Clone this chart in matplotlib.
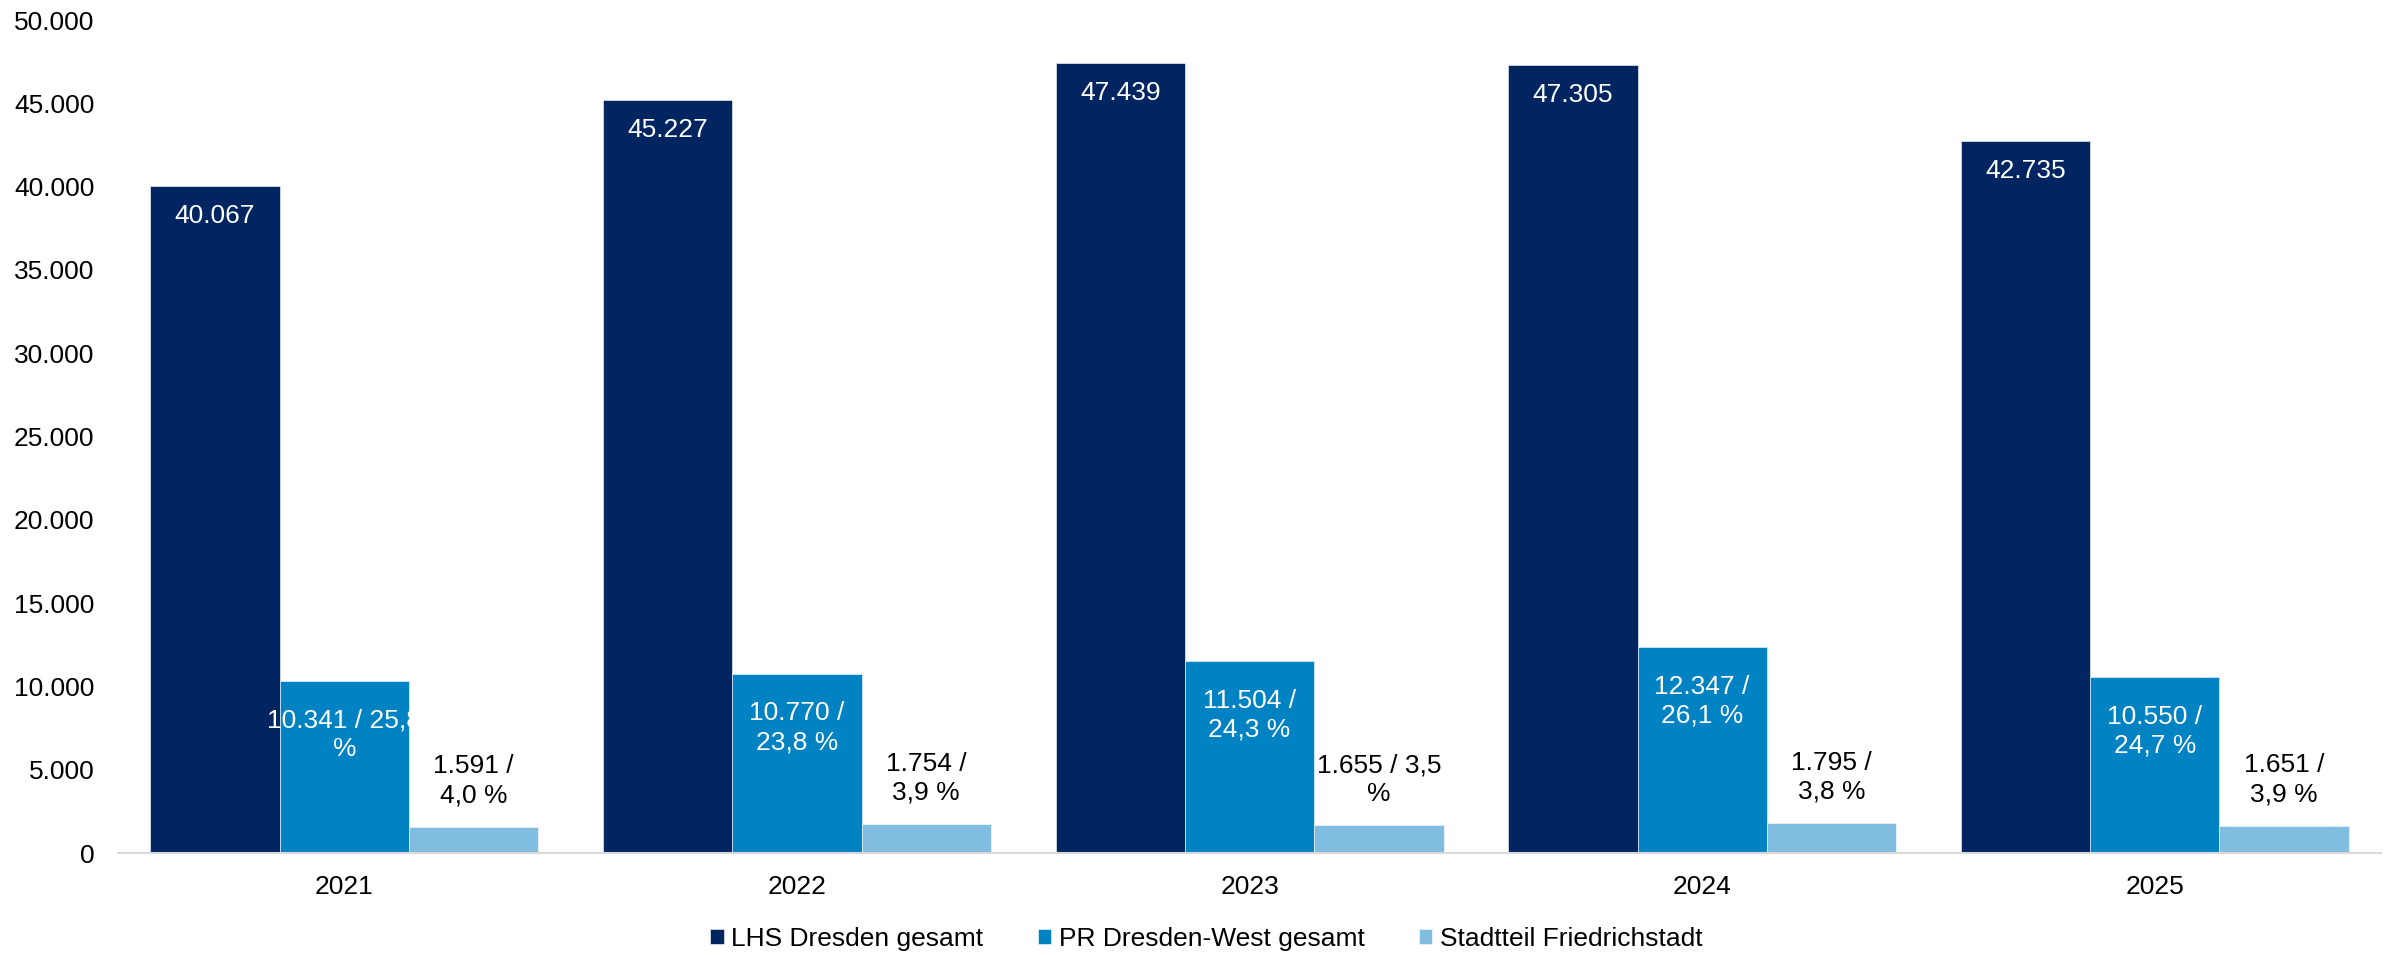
import numpy as np
import matplotlib
matplotlib.use("Agg")
import matplotlib.pyplot as plt
import matplotlib.ticker as ticker

plt.rcParams["font.family"] = ["Liberation Sans", "DejaVu Sans"]

# ── Data ────────────────────────────────────────────────────────────────────
years = ["2021", "2022", "2023", "2024", "2025"]
lhs_gesamt = [40067, 45227, 47439, 47305, 42735]
pr_west = [10341, 10770, 11504, 12347, 10550]
friedrichstadt = [1591, 1754, 1655, 1795, 1651]

lhs_labels = ["40.067", "45.227", "47.439", "47.305", "42.735"]
pr_labels = ["10.341 / 25,8\n%", "10.770 /\n23,8 %", "11.504 /\n24,3 %",
             "12.347 /\n26,1 %", "10.550 /\n24,7 %"]
fs_labels = ["1.591 /\n4,0 %", "1.754 /\n3,9 %", "1.655 / 3,5\n%",
             "1.795 /\n3,8 %", "1.651 /\n3,9 %"]

series_names = ["LHS Dresden gesamt", "PR Dresden-West gesamt",
                "Stadtteil Friedrichstadt"]
colors = ["#002561", "#0082C3", "#80BDE0"]

# ── Figure ──────────────────────────────────────────────────────────────────
fig = plt.figure(figsize=(23.89, 9.55), dpi=100)
ax = fig.add_axes([0.0494, 0.1068, 0.9473, 0.8722])

x = np.arange(len(years))
w = 0.2857
fsz = 19

b1 = ax.bar(x - w, lhs_gesamt, w, color=colors[0], label=series_names[0],
            edgecolor="white", linewidth=0.4)
b2 = ax.bar(x, pr_west, w, color=colors[1], label=series_names[1],
            edgecolor="white", linewidth=0.4)
b3 = ax.bar(x + w, friedrichstadt, w, color=colors[2], label=series_names[2],
            edgecolor="white", linewidth=0.4)

# value labels
for xi, v, t in zip(x - w, lhs_gesamt, lhs_labels):
    ax.annotate(t, (xi, v), xytext=(0, -13), textcoords="offset points",
                ha="center", va="top", color="white", fontsize=fsz)
for xi, v, t in zip(x, pr_west, pr_labels):
    ax.annotate(t, (xi, v), xytext=(0, -20), textcoords="offset points",
                ha="center", va="top", color="white", fontsize=fsz,
                linespacing=1.25)
for xi, v, t in zip(x + w, friedrichstadt, fs_labels):
    ax.annotate(t, (xi, v), xytext=(0, 14), textcoords="offset points",
                ha="center", va="bottom", color="black", fontsize=fsz,
                linespacing=1.25)

# ── Aesthetics ──────────────────────────────────────────────────────────────
ax.set_xlim(-0.5, len(years) - 0.5)
ax.set_ylim(0, 50000)
ax.set_xticks(x)
ax.set_xticklabels(years)
ax.yaxis.set_major_locator(ticker.MultipleLocator(5000))
ax.yaxis.set_major_formatter(
    ticker.FuncFormatter(lambda v, p: f"{v:,.0f}".replace(",", ".")))

ax.tick_params(axis="both", length=0, labelsize=fsz)
ax.tick_params(axis="y", pad=17)
ax.tick_params(axis="x", pad=16)

for s in ["top", "right", "left"]:
    ax.spines[s].set_visible(False)
ax.spines["bottom"].set_color("#d9d9d9")
ax.spines["bottom"].set_linewidth(1.5)

fig.legend(handles=[b1, b2, b3], loc="center",
           bbox_to_anchor=(0.505, 0.017), ncol=3, frameon=False,
           fontsize=fsz, handlelength=0.5, handleheight=0.5,
           handletextpad=0.3, columnspacing=2.05, borderaxespad=0,
           borderpad=0)

fig.savefig("out.png", dpi=100)
